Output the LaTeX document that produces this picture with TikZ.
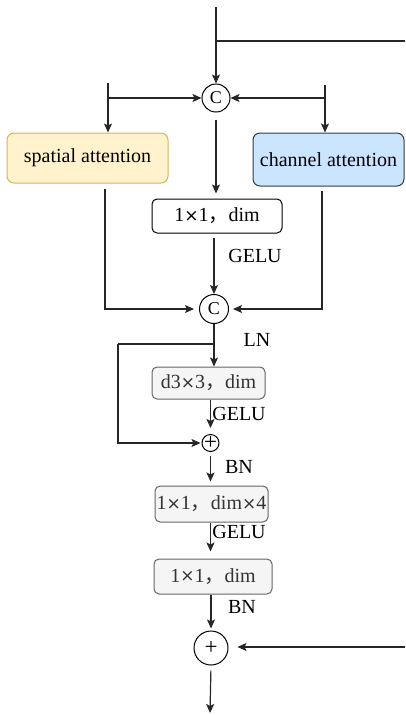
\documentclass[tikz,border=0pt]{standalone}
\usepackage{fontspec}
\setmainfont{Liberation Serif}
\newfontfamily\cjk{Noto Sans CJK SC}
\newfontfamily\symfont{DejaVu Sans}
\usetikzlibrary{arrows.meta}
\definecolor{saFill}{HTML}{FFF2CC}
\definecolor{saLine}{HTML}{D6B656}
\definecolor{caFill}{HTML}{CCE5FF}
\definecolor{caLine}{HTML}{36393D}
\definecolor{grFill}{HTML}{F5F5F5}
\definecolor{grLine}{HTML}{666666}
\definecolor{grText}{HTML}{333333}
\newcommand{\fw}{{\cjk ，}}
\newcommand{\tm}{{\symfont\fontsize{17}{17}\selectfont\raisebox{0.5pt}{×}}}
\newcommand{\plusmark}{\makebox[0pt]{+}}
\tikzset{
  txt/.style={font=\fontsize{20}{24}\selectfont},
  arr/.style={line width=1.2pt, draw=black!85, -{Stealth[length=9pt,width=8pt,inset=2pt]}},
  ln/.style={line width=1.2pt, draw=black!85},
  attbox/.style={txt, rounded corners=7pt, line width=1pt, inner sep=0pt},
  whitebox/.style={txt, rounded corners=5pt, draw=black, line width=1pt, fill=white, inner sep=0pt},
  graybox/.style={txt, rounded corners=5pt, draw=grLine, line width=1pt, fill=grFill, text=grText, inner sep=0pt},
  opcirc/.style={circle, draw=black, line width=1pt, fill=white, inner sep=0pt},
  lbl/.style={txt, inner sep=0pt}
}
\begin{document}
\begin{tikzpicture}[x=1pt,y=-1pt]
\useasboundingbox (0,0) rectangle (405,715);

% --- first concatenation and the two attention branches ---
\node[opcirc, minimum size=28pt, font=\fontsize{18}{20}\selectfont] (c1) at (216,98) {C};
\coordinate (in) at (216,7);
\coordinate (rt) at (405,41);
\coordinate (lb) at (108,83);
\coordinate (rb) at (325,85);
\node[attbox, fill=saFill, draw=saLine, minimum width=161pt, minimum height=50pt] (sa) at (87.5,158) {spatial attention};
\node[attbox, fill=caFill, draw=caLine, minimum width=151pt, minimum height=53pt] (ca) at (328.5,159.5) {channel attention};

\draw[arr] (in) -- (c1.north);
\draw[ln] (in |- rt) -- (rt);
\draw[arr] (lb) -- (lb |- sa.north);
\draw[arr] (lb |- c1) -- (c1.west);
\draw[arr] (rb) -- (rb |- ca.north);
\draw[arr] (rb |- c1) -- (c1.east);

% --- 1x1 projection and second concatenation ---
\node[whitebox, minimum width=130pt, minimum height=34pt] (b1) at (217,216) {1\tm1\fw dim};
\node[opcirc, minimum size=29pt, font=\fontsize{18}{20}\selectfont] (c2) at (214,309) {C};

\draw[arr, shorten <=7pt, shorten >=5pt] (c1.south) -- (c1.south |- b1.north);
\draw[arr, shorten <=4pt] (c2 |- b1.south) -- (c2.north);
\node[lbl] (g1) at (255,256) {GELU};
\draw[arr, shorten <=5pt, shorten >=5pt] ([xshift=17.5pt]sa.south) |- (c2.west);
\draw[arr, shorten <=4pt, shorten >=4pt] ([xshift=-6.5pt]ca.south) |- (c2.east);
\node[lbl] (ln1) at (257,340) {LN};

% --- depthwise block with residual ---
\node[graybox, minimum width=113pt, minimum height=32pt] (b2) at (208.5,383) {d3\tm3\fw dim};
\node[opcirc, minimum size=17pt, font=\fontsize{23}{23}\selectfont] (p1) at (210.5,443) {\plusmark};
\coordinate (fork) at (214,344);
\coordinate (skl) at (118,344);

\draw[arr] (c2.south) -- (c2.south |- b2.north);
\draw[ln] (fork) -- (skl);
\draw[arr, shorten >=1pt] (skl) |- (p1.west);
\draw[arr, shorten >=6pt] (b2.south -| p1) -- (p1.north);
\node[lbl] (g2) at (239,414) {GELU};

% --- pointwise expansion and projection ---
\node[graybox, minimum width=113pt, minimum height=36pt] (b3) at (211.5,504) {1\tm1\fw dim\tm4};
\node[graybox, minimum width=118pt, minimum height=35pt] (b4) at (213,576.5) {1\tm1\fw dim};
\node[lbl] (bn1) at (239,467) {BN};
\draw[arr, shorten <=3.5pt, shorten >=4pt] (p1.south) -- (p1.south |- b3.north);
\node[lbl] (g3) at (239,532) {GELU};
\draw[arr, shorten >=7pt] (p1 |- b3.south) -- (p1 |- b4.north);
\node[lbl] (bn2) at (242,607) {BN};

% --- final residual addition ---
\node[opcirc, minimum size=34pt, font=\fontsize{23}{23}\selectfont] (p2) at (211,648) {\plusmark};
\coordinate (rin) at (405,647);
\coordinate (out) at (210,713);
\draw[arr, shorten >=2pt] (p2 |- b4.south) -- (p2.north);
\draw[arr, shorten >=9pt] (rin) -- (rin -| p2.east);
\draw[arr, shorten <=5pt] (p2.south) -- (out);
\end{tikzpicture}
\end{document}
